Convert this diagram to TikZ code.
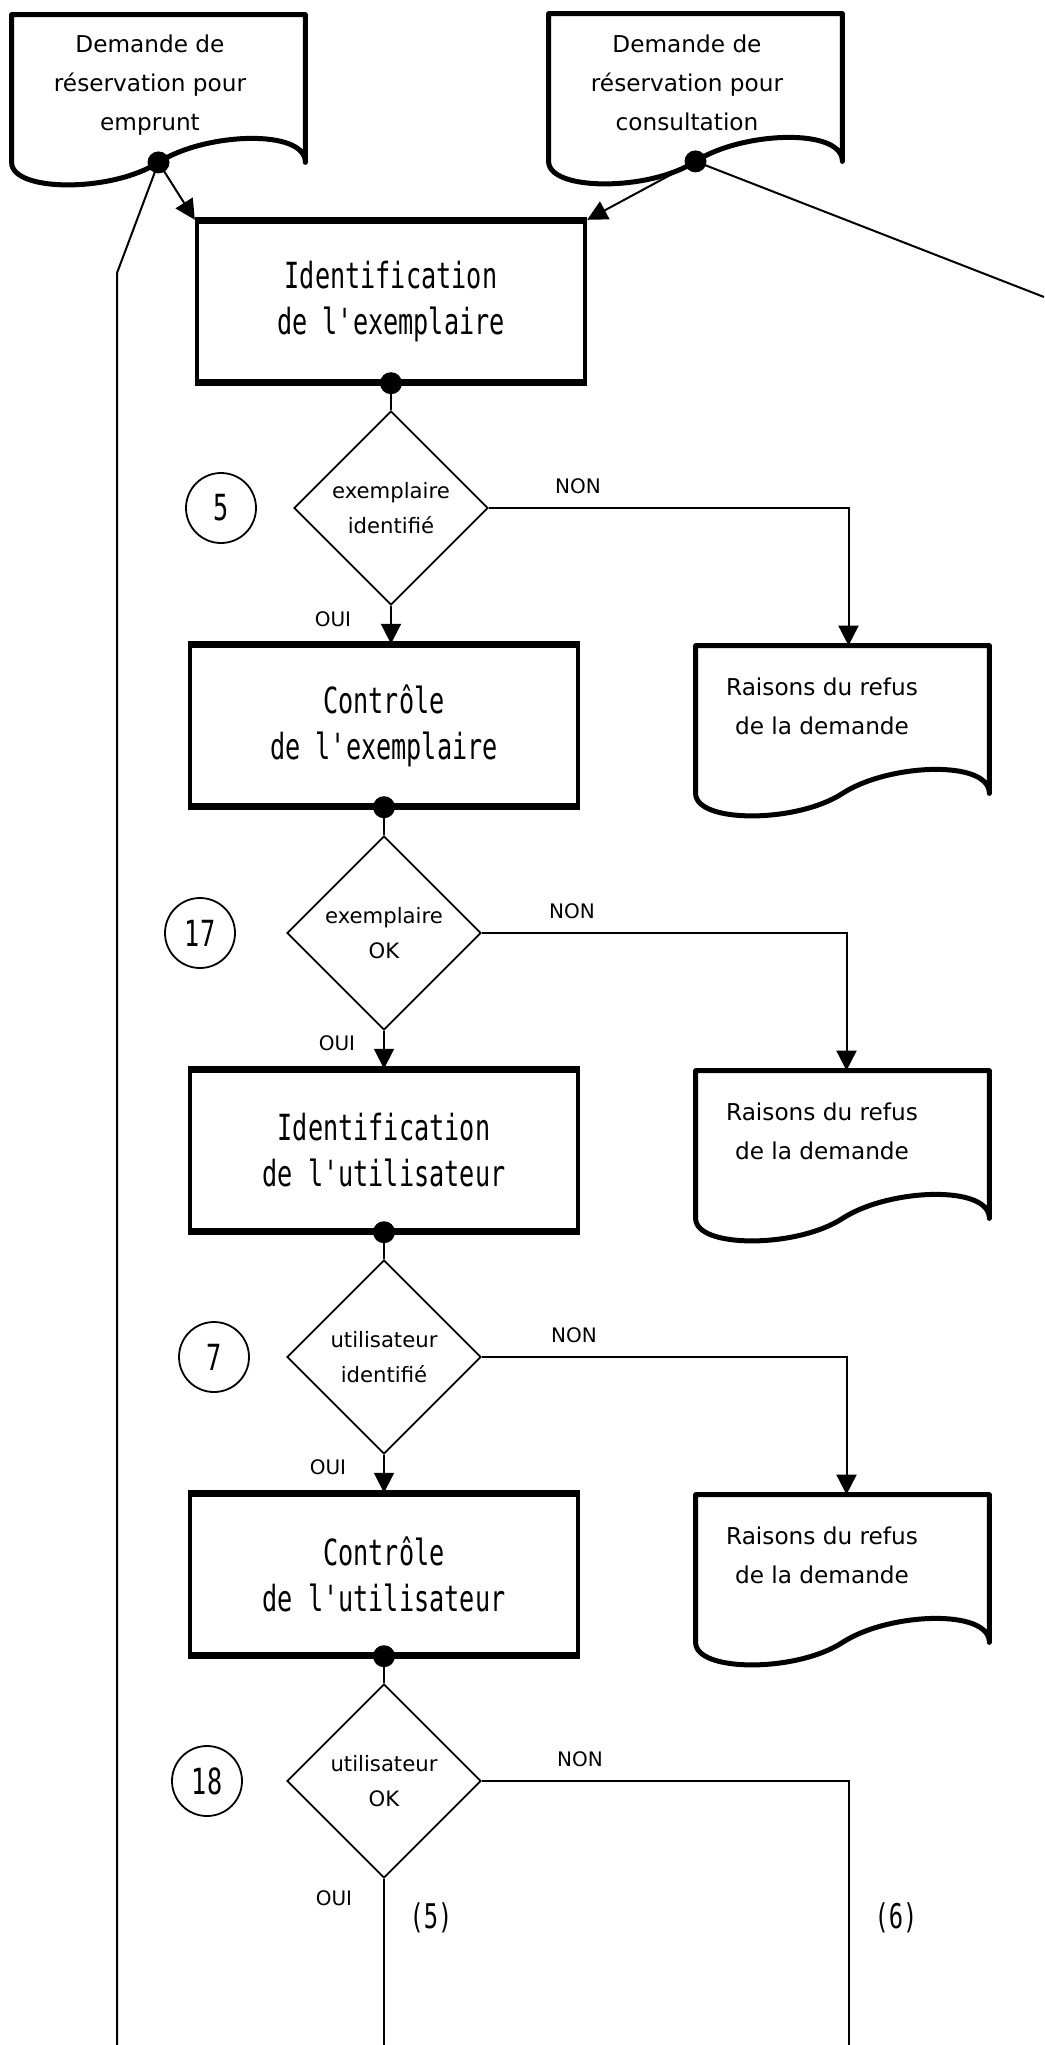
\documentclass[tikz,border=0pt]{standalone}
\usepackage{fontspec}
\setmainfont{DejaVu Sans}
\newfontfamily\boxfont[FakeStretch=0.7]{DejaVu Sans Mono}
\usepackage{tikz}
\usetikzlibrary{shapes.geometric, arrows.meta, positioning, calc}
\tikzset{
  procbox/.style={draw, line width=2.2pt, minimum width=194pt, minimum height=79.5pt, inner sep=0pt, align=center, font=\boxfont\fontsize{18}{23}\selectfont},
  docbody/.style={minimum width=146.5pt, minimum height=73.5pt, inner sep=0pt},
  docline/.style={line width=2.5pt, line join=round},
  doctext/.style={align=center, font=\fontsize{11.6}{19.5}\selectfont},
  test/.style={draw, diamond, line width=0.9pt, minimum width=97pt, minimum height=97pt, inner sep=0pt, align=center, font=\fontsize{10.6}{17.5}\selectfont},
  rulenum/.style={draw, circle, line width=0.9pt, minimum size=35pt, inner sep=0pt, font=\boxfont\fontsize{18}{20}\selectfont},
  yn/.style={font=\fontsize{10}{12}\selectfont},
  refnum/.style={font=\boxfont\fontsize{17}{20}\selectfont},
  flow/.style={line width=1pt},
  arr/.style={flow, -{Triangle[length=10pt, width=10pt]}}
}
\begin{document}
\begin{tikzpicture}[x=0.5pt, y=-0.5pt]
    \useasboundingbox[fill=white] (0,0) rectangle (1044,2045);
    % requests
    \node[docbody] (dA) at (158.5,88.5) {};
    \node[doctext] (tA) at (150,85) {Demande de\\réservation pour\\emprunt};
    \node[docbody] (dB) at (695.5,87.5) {};
    \node[doctext] (tB) at (687,83) {Demande de\\réservation pour\\consultation};
    % process boxes
    \node[procbox] (b1) at (391,301.5) {Identification\\de l'exemplaire};
    \node[procbox] (b2) at (384,725.5) {Contrôle\\de l'exemplaire};
    \node[procbox] (b3) at (384,1150.5) {Identification\\de l'utilisateur};
    \node[procbox] (b4) at (384,1574.5) {Contrôle\\de l'utilisateur};
    \foreach \n in {b1,b2,b3,b4}
        \draw[line width=3.2pt] (\n.north west) -- (\n.north east) (\n.south west) -- (\n.south east);
    % tests
    \node[test] (q1) at (391,508) {exemplaire\\identifié};
    \node[test] (q2) at (384,933) {exemplaire\\OK};
    \node[test] (q3) at (384,1357) {utilisateur\\identifié};
    \node[test] (q4) at (384,1781) {utilisateur\\OK};
    % rule numbers
    \node[rulenum] (n1) at (221,508) {5};
    \node[rulenum] (n2) at (200,933) {17};
    \node[rulenum] (n3) at (214,1357) {7};
    \node[rulenum] (n4) at (207,1781) {18};
    % refusals
    \node[docbody] (rA) at (842.5,719.5) {};
    \node[doctext] (sA) at (822,706) {Raisons du refus\\de la demande};
    \node[docbody] (rB) at (842.5,1144.5) {};
    \node[doctext] (sB) at (822,1131) {Raisons du refus\\de la demande};
    \node[docbody] (rC) at (842.5,1568.5) {};
    \node[doctext] (sC) at (822,1555) {Raisons du refus\\de la demande};
    % document outlines
    \foreach \n in {dA,dB,rA,rB,rC}
        \draw[docline] (\n.south west) .. controls +(0,30) and +(-46,30) .. (\n.south)
            .. controls +(46,-30) and +(0,-34) .. (\n.south east) -- (\n.north east) -- (\n.north west) -- cycle;
    % connectors
    \coordinate (kA) at (117,273);
    \coordinate (eA) at (117,2045);
    \coordinate (eB) at (1044,297);
    \coordinate (e5) at (384,2045);
    \coordinate (e6) at (849,2045);
    \draw[arr] (dA.south) -- (b1.north west);
    \draw[arr] (dB.south) -- (b1.north east);
    \draw[flow] (dA.south) -- (kA) -- (eA);
    \draw[flow] (dB.south) -- (eB);
    \foreach \i in {1,...,4} { \draw[flow] (b\i.south) -- (q\i.north); }
    \draw[arr] (q1.south) -- (q1.south |- b2.north);
    \draw[arr] (q2.south) -- (b3.north);
    \draw[arr] (q3.south) -- (b4.north);
    \draw[arr] (q1.east) -| ([xshift=3pt]rA.north);
    \draw[arr] (q2.east) -| ([xshift=2pt]rB.north);
    \draw[arr] (q3.east) -| ([xshift=2pt]rC.north);
    \draw[flow] (q4.south) -- (e5);
    \draw[flow] (q4.east) -| (e6);
    % junction dots
    \foreach \p in {dA.south, dB.south, b1.south, b2.south, b3.south, b4.south} { \fill (\p) circle (5.5pt); }
    % branch labels
    \node[yn] (no1) at (578,486) {NON};
    \node[yn] (no2) at (572,911) {NON};
    \node[yn] (no3) at (574,1335) {NON};
    \node[yn] (no4) at (580,1759) {NON};
    \node[yn] (yes1) at (333,619) {OUI};
    \node[yn] (yes2) at (337,1043) {OUI};
    \node[yn] (yes3) at (328,1467) {OUI};
    \node[yn] (yes4) at (334,1898) {OUI};
    \node[refnum] (r5) at (431,1918) {(5)};
    \node[refnum] (r6) at (896,1918) {(6)};
\end{tikzpicture}
\end{document}
